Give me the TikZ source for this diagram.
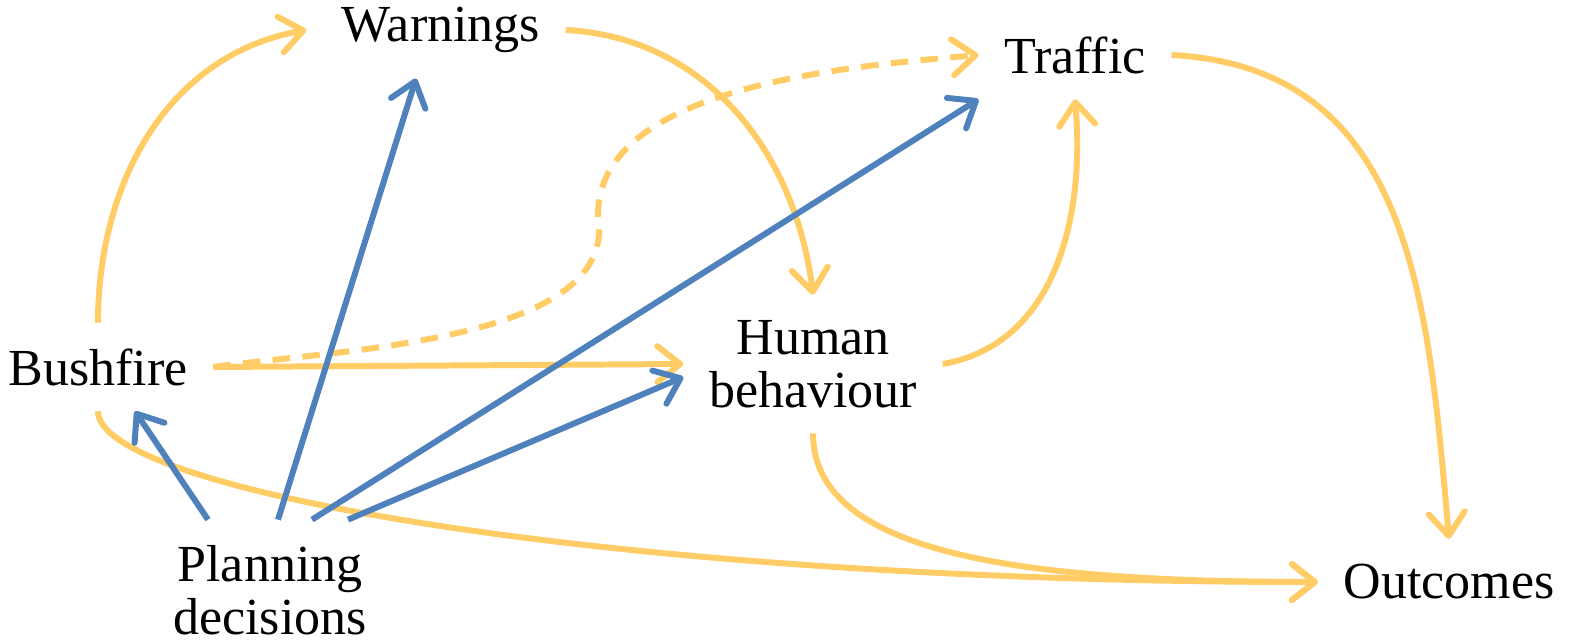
\documentclass[tikz,border=0pt]{standalone}
\usepackage{fontspec}
\setmainfont{Liberation Serif}
\usepackage{tikz}
\usetikzlibrary{arrows.meta}
\definecolor{fireyellow}{RGB}{255,204,102}
\definecolor{planblue}{RGB}{79,129,189}

\begin{document}
\begin{tikzpicture}[
  every node/.style={inner sep=2.5mm, align=center, font=\fontsize{14.8}{15}\selectfont},
  cause/.style={draw=fireyellow, line width=1.7pt, -{Straight Barb[length=2.3mm, width=3.6mm, round]}},
  plan/.style={draw=planblue, line width=1.7pt, -{Straight Barb[length=2.3mm, width=3.6mm, round]}}]
\useasboundingbox (0, 0) rectangle (15.85, 6.40);
\node (W) at (4.41, 6.10) {Warnings};
\node (T) at (10.75, 5.85) {Traffic};
\node (B) at (0.98, 2.73) {Bushfire};
\node (H) at (8.13, 2.76) {Human\\behaviour};
\node (P) at (2.70, 0.50) {Planning\\decisions};
\node (O) at (14.49, 0.58) {Outcomes};
\coordinate (bend) at (5.98, 4.25);
\draw[cause] (B.north) to[out=90, in=190] ([xshift=-0.1cm]W.west);
\draw[cause] (W.east) to[out=-3, in=97] (H.north);
\draw[cause] (B.east) -- (H.west);
\draw[cause, dash pattern=on 5pt off 3.5pt] (B.east) to[out=8, in=-80, looseness=0.8] (bend) to[out=90, in=185, looseness=0.8] (T.west);
\draw[cause] (B.south) to[out=-90, in=180, out distance=0.8cm, in distance=7cm] (O.west);
\draw[cause] (H.south) to[out=-90, in=180, out distance=1.2cm, in distance=3cm] (O.west);
\draw[cause] (H.east) to[out=10, in=-85] (T.south);
\draw[cause] (T.east) to[out=-3, in=95, looseness=1.1] (O.north);
\draw[plan] ([xshift=-0.62cm]P.north) -- ([xshift=0.37cm]B.south);
\draw[plan] ([xshift=0.08cm]P.north) -- ([xshift=-0.25cm]W.south);
\draw[plan] ([xshift=0.42cm]P.north) -- (T.south west);
\draw[plan] ([xshift=0.78cm]P.north) -- ([yshift=-0.13cm]H.west);
\end{tikzpicture}
\end{document}
